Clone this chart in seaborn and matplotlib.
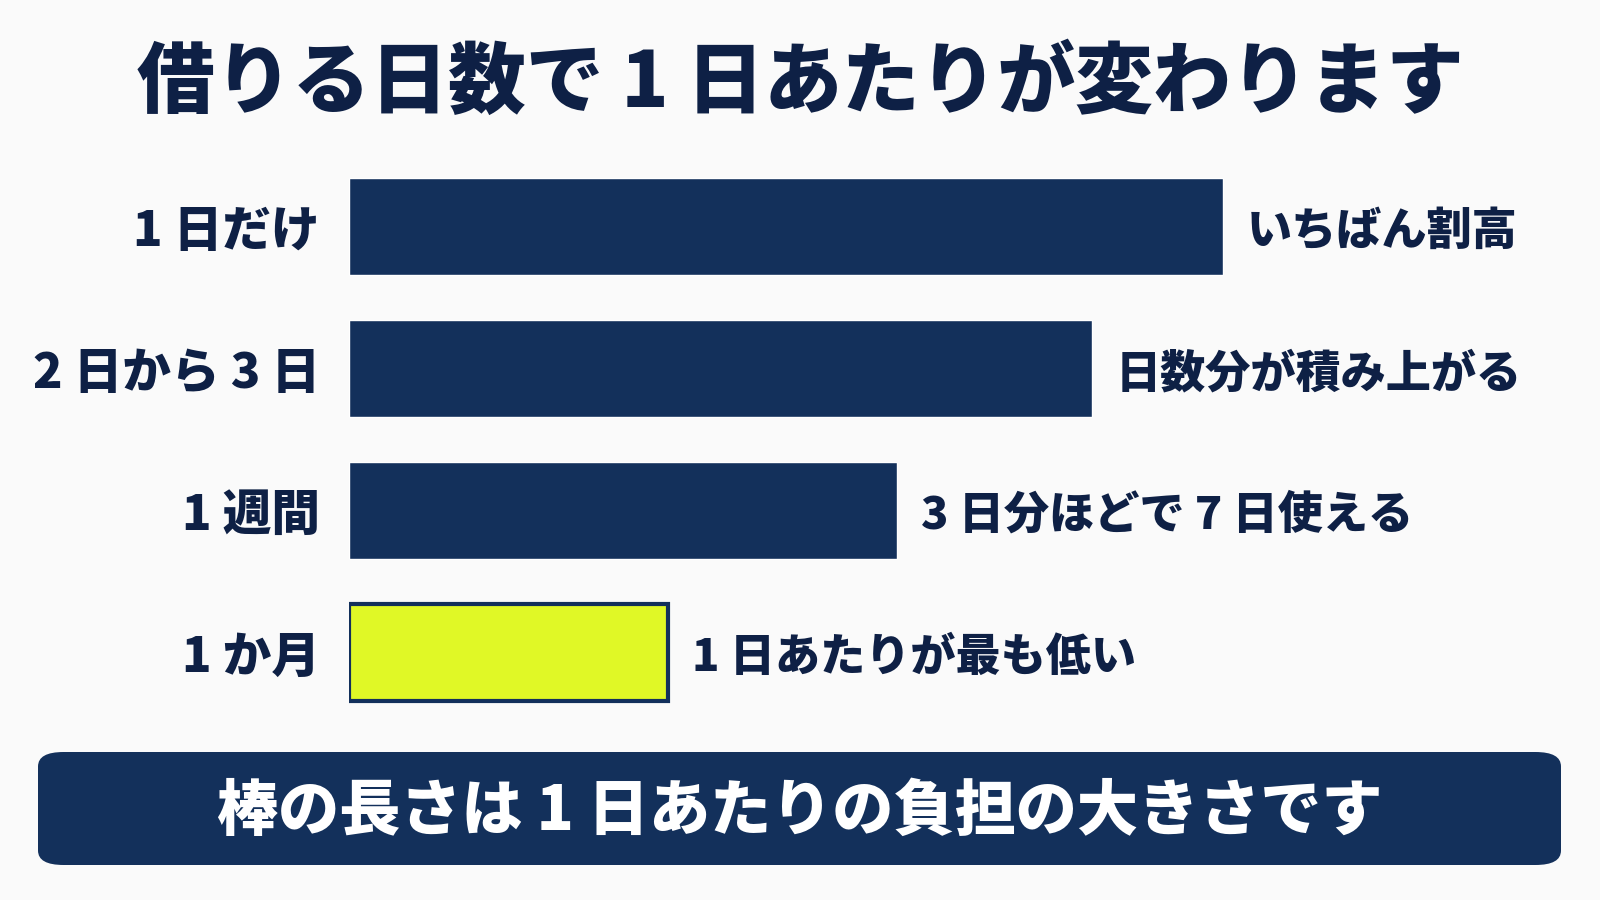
import matplotlib
matplotlib.use("Agg")
import matplotlib.pyplot as plt
from matplotlib.patches import FancyBboxPatch
import seaborn as sns

periods = ["1 日だけ", "2 日から 3 日", "1 週間", "1 か月"]
burden = [100, 85, 62.7, 36.5]
notes = ["いちばん割高", "日数分が積み上がる", "3 日分ほどで 7 日使える", "1 日あたりが最も低い"]
title = "借りる日数で 1 日あたりが変わります"
footer = "棒の長さは 1 日あたりの負担の大きさです"

NAVY = "#13305b"
DARK = "#0e2045"
LIME = "#e0f826"
BG = "#fafafa"

sns.set_theme(style="white")
plt.rcParams["font.family"] = ["Noto Sans CJK JP", "DejaVu Sans"]

fig = plt.figure(figsize=(16, 9), dpi=100, facecolor=BG)
ax = fig.add_axes([349 / 1600, 1 - 723.5 / 900, 1000 / 1600, 568 / 900])
ax.set_facecolor(BG)

sns.barplot(x=burden, y=periods, hue=periods, palette=[NAVY, NAVY, NAVY, LIME],
            legend=False, width=0.68, saturation=1, ax=ax)
for p in ax.patches[3:]:
    p.set_edgecolor(NAVY)
    p.set_linewidth(3)

ax.set_xlim(0, 100 * 1000 / 874)
ax.set_ylim(3.5, -0.5)
ax.set_xticks([])
ax.set_yticks(range(len(periods)))
ax.set_yticklabels(periods, fontsize=35, fontweight="black", color=DARK)
ax.tick_params(axis="y", length=0, pad=21)
sns.despine(ax=ax, left=True, bottom=True)

for i, (v, note) in enumerate(zip(burden, notes)):
    ax.annotate(note, xy=(v, i), xytext=(24, -5), textcoords="offset pixels",
                va="center", ha="left", fontsize=32.5, fontweight="black", color=DARK)

fig.text(0.5, 1 - 84 / 900, title, ha="center", va="center",
         fontsize=56, fontweight="black", color=DARK)

box = FancyBboxPatch((38 / 1600, 1 - 865 / 900), (1561 - 38) / 1600, 113 / 900,
                     boxstyle="round,pad=0,rounding_size=0.016",
                     transform=fig.transFigure, facecolor=NAVY, edgecolor="none")
fig.patches.append(box)
fig.text(0.5, 1 - 812 / 900, footer, ha="center", va="center",
         fontsize=44, fontweight="black", color="white")

fig.savefig("out.png", dpi=100, facecolor=BG)
